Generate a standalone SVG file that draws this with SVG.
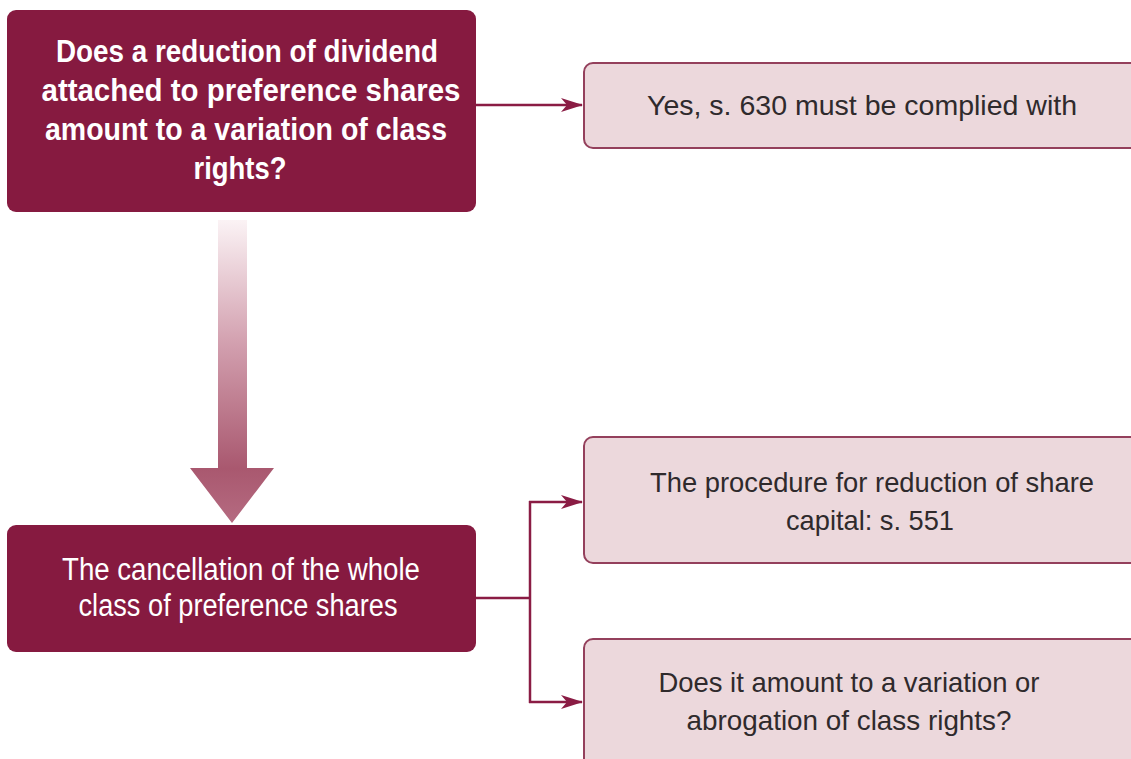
<svg xmlns="http://www.w3.org/2000/svg" width="1131" height="759" viewBox="0 0 1131 759">
  <style>
    .dark { fill: #861a40; }
    .light { fill: #ecd8dc; stroke: #94405c; stroke-width: 2; }
    .t-dark { font-family: "Liberation Sans", Arial, sans-serif; font-size: 31px; fill: #ffffff; text-anchor: middle; }
    .t-bold { font-weight: bold; }
    .t-light { font-family: "Liberation Sans", Arial, sans-serif; font-size: 28px; fill: #2f2a2c; text-anchor: middle; }
    .conn { fill: none; stroke: #8a1c44; stroke-width: 2.5; }
  </style>
  <defs>
    <marker id="arrow" viewBox="0 0 22 14" refX="21" refY="7" markerWidth="22" markerHeight="14" markerUnits="userSpaceOnUse" orient="auto">
      <path d="M0,0 L22,7 L0,14 L6,7 Z" fill="#8a1c44"/>
    </marker>
    <linearGradient id="fade" x1="0" y1="220" x2="0" y2="523" gradientUnits="userSpaceOnUse">
      <stop offset="0" stop-color="#fbf3f5"/>
      <stop offset="0.4" stop-color="#d3a1b0"/>
      <stop offset="0.82" stop-color="#a9586f"/>
      <stop offset="1" stop-color="#b56b81"/>
    </linearGradient>
  </defs>
  <rect width="1131" height="759" fill="#ffffff"/>

  <!-- big down arrow between the two left boxes -->
  <g id="flow-arrow">
    <path d="M218,220 L247,220 L247,468 L274,468 L232,523 L190,468 L218,468 Z" fill="url(#fade)"/>
  </g>

  <g id="q-dividend">
    <rect class="dark" x="7" y="10" width="469" height="202" rx="9"/>
    <text class="t-dark t-bold" x="247" y="62" textLength="382" lengthAdjust="spacingAndGlyphs">Does a reduction of dividend</text>
    <text class="t-dark t-bold" x="251" y="101" textLength="419" lengthAdjust="spacingAndGlyphs">attached to preference shares</text>
    <text class="t-dark t-bold" x="246" y="140" textLength="402" lengthAdjust="spacingAndGlyphs">amount to a variation of class</text>
    <text class="t-dark t-bold" x="240" y="179" textLength="93" lengthAdjust="spacingAndGlyphs">rights?</text>
  </g>

  <g id="yes-630">
    <rect class="light" x="584" y="63" width="560" height="85" rx="9"/>
    <text class="t-light" x="862" y="115" textLength="430" lengthAdjust="spacingAndGlyphs">Yes, s. 630 must be complied with</text>
  </g>

  <g id="cancellation">
    <rect class="dark" x="7" y="525" width="469" height="127" rx="9"/>
    <text class="t-dark" x="241" y="580" font-size="30" textLength="358" lengthAdjust="spacingAndGlyphs">The cancellation of the whole</text>
    <text class="t-dark" x="238" y="616" font-size="30" textLength="319" lengthAdjust="spacingAndGlyphs">class of preference shares</text>
  </g>

  <g id="procedure-551">
    <rect class="light" x="584" y="437" width="560" height="126" rx="9"/>
    <text class="t-light" x="872" y="492" textLength="444" lengthAdjust="spacingAndGlyphs">The procedure for reduction of share</text>
    <text class="t-light" x="870" y="530" textLength="168" lengthAdjust="spacingAndGlyphs">capital: s. 551</text>
  </g>

  <g id="variation-q">
    <rect class="light" x="584" y="639" width="560" height="130" rx="9"/>
    <text class="t-light" x="849" y="692" textLength="381" lengthAdjust="spacingAndGlyphs">Does it amount to a variation or</text>
    <text class="t-light" x="849" y="730" textLength="325" lengthAdjust="spacingAndGlyphs">abrogation of class rights?</text>
  </g>

  <g id="connectors">
    <path class="conn" d="M476,105 L582,105" marker-end="url(#arrow)"/>
    <path class="conn" d="M476,598 L530,598"/>
    <path class="conn" d="M530,501 L530,703"/>
    <path class="conn" d="M529,502 L582,502" marker-end="url(#arrow)"/>
    <path class="conn" d="M529,702 L582,702" marker-end="url(#arrow)"/>
  </g>
</svg>
